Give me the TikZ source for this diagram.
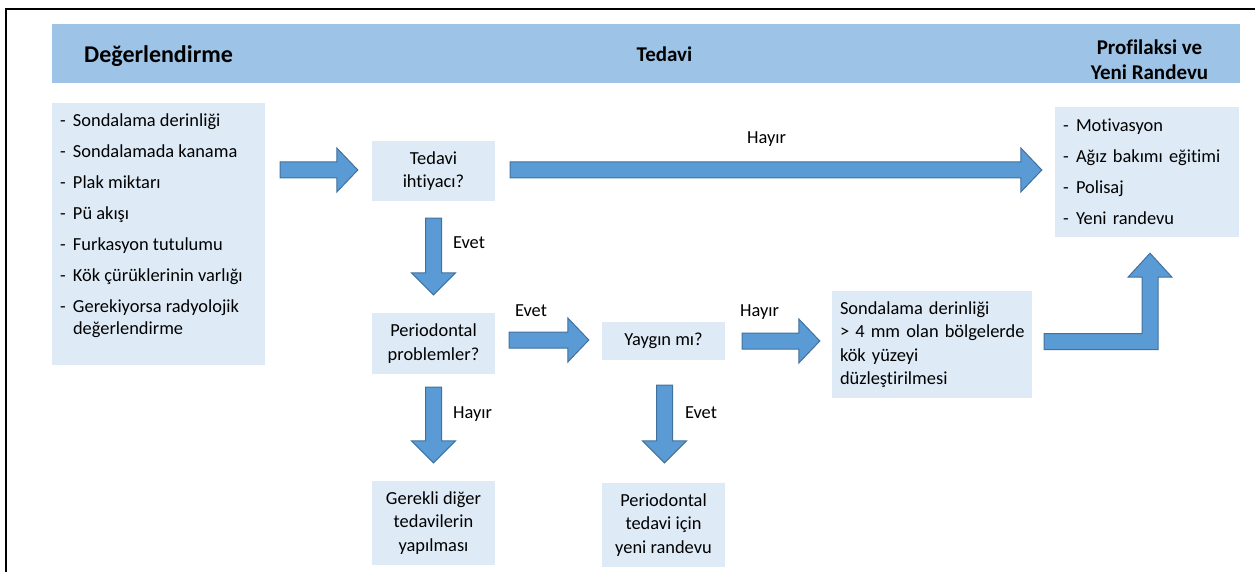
\documentclass[tikz,border=0pt]{standalone}
\usepackage{fontspec}
\setmainfont{Carlito}[Ligatures=NoCommon]
\usepackage{tikz}
\usetikzlibrary{calc, positioning}
\definecolor{bandblue}{HTML}{9DC3E6}
\definecolor{boxblue}{HTML}{DEEBF7}
\definecolor{arrowfill}{HTML}{5B9BD5}
\definecolor{arrowline}{HTML}{41719C}
\newcommand{\dashitem}[1]{\makebox[13pt][l]{-}#1}
\newcommand{\rightblock}[2]{%
  \draw[blockarrow] let \p1 = #1, \p2 = #2 in
    (\x1, \y1+8pt) -- (\x2-21pt, \y1+8pt) -- (\x2-21pt, \y1+22pt) -- (\x2, \y1)
    -- (\x2-21pt, \y1-22pt) -- (\x2-21pt, \y1-8pt) -- (\x1, \y1-8pt) -- cycle;}
\newcommand{\downblock}[2]{%
  \draw[blockarrow] let \p1 = #1, \p2 = #2 in
    (\x1-8pt, \y1) -- (\x1-8pt, \y2+22pt) -- (\x1-22pt, \y2+22pt) -- (\x1, \y2)
    -- (\x1+22pt, \y2+22pt) -- (\x1+8pt, \y2+22pt) -- (\x1+8pt, \y1) -- cycle;}

\begin{document}
\begin{tikzpicture}[x=1pt, y=-1pt,
    box/.style={fill=boxblue, inner sep=0pt, align=center, font=\fontsize{18.4}{23.5}\selectfont},
    head/.style={inner sep=0pt, font=\bfseries\fontsize{21}{25.5}\selectfont},
    lbl/.style={inner sep=0pt, anchor=base, font=\fontsize{18.4}{22}\selectfont},
    blockarrow/.style={draw=arrowline, fill=arrowfill, line width=1pt, line join=miter}]
                                \useasboundingbox (0, 0) rectangle (1255, 572);
                                \draw[line width=1.3pt] (6, 572) -- (6, 9) -- (1255, 9);
                                \node[fill=bandblue, minimum width=1188pt, minimum height=59pt] (band) at (646, 53.5) {};
                                \node[head, font=\bfseries\fontsize{24}{28}\selectfont, anchor=base west] (assesshead) at (84, 63) {Değerlendirme};
                                \node[head, anchor=base] (treathead) at (664.5, 62) {Tedavi};
                                \node[head, align=center] (prophead) at (1149.5, 59.5) {Profilaksi ve\\Yeni Randevu};
                                \node[box, minimum width=213pt, minimum height=262pt] (assess) at (158.5, 234) {};
                                \node[box, fill=none, align=left, font=\fontsize{18.4}{22}\selectfont, anchor=north west,
                                    xshift=8pt, yshift=-10.5pt] (assesslist) at (assess.north west)
                                    {\dashitem{Sondalama derinliği}\\[9pt]
                                     \dashitem{Sondalamada kanama}\\[9pt]
                                     \dashitem{Plak miktarı}\\[9pt]
                                     \dashitem{Pü akışı}\\[9pt]
                                     \dashitem{Furkasyon tutulumu}\\[9pt]
                                     \dashitem{Kök çürüklerinin varlığı}\\[9pt]
                                     \dashitem{Gerekiyorsa radyolojik}\\
                                     \hspace*{13pt}değerlendirme};
                                \node[box, minimum width=123pt, minimum height=60pt] (need) at (433.5, 171) {Tedavi\\ihtiyacı?};
                                \node[box, minimum width=123pt, minimum height=61pt] (perio) at (433.5, 343.5) {Periodontal\\problemler?};
                                \node[box, minimum width=123pt, minimum height=38pt] (yaygin) at (663.5, 341) {Yaygın mı?};
                                \node[box, minimum width=123pt, minimum height=84pt] (other) at (433.5, 523) {Gerekli diğer\\tedavilerin\\yapılması};
                                \node[box, minimum width=123pt, minimum height=84pt] (newvisit) at (663.5, 525) {Periodontal\\tedavi için\\yeni randevu};
                                \node[box, align=left, text width=184pt, inner xsep=8pt, minimum height=107pt] (scaling) at (932, 344.5)
                                    {\mbox{Sondalama derinliği}\\\mbox{> 4 mm olan bölgelerde}\\\mbox{kök yüzeyi}\\\mbox{düzleştirilmesi}};
                                \node[box, align=left, text width=168pt, inner xsep=8pt, minimum height=130pt] (motiv) at (1147, 172)
                                    {\dashitem{Motivasyon}\\[7.5pt]
                                     \dashitem{Ağız bakımı eğitimi}\\[7.5pt]
                                     \dashitem{Polisaj}\\[7.5pt]
                                     \dashitem{Yeni randevu}};
                                \rightblock{($(assess.east |- need.west)+(15, -1)$)}{($(need.west)+(-14, 0)$)}
                                \rightblock{($(need.east)+(15, -1)$)}{($(motiv.west |- need.east)+(-13, 0)$)}
                                \downblock{($(need.south)+(0, 17)$)}{($(perio.north)+(0, -18)$)}
                                \rightblock{($(perio.east |- yaygin.west)+(14, -1)$)}{($(yaygin.west)+(-13, 0)$)}
                                \downblock{($(perio.south)+(0, 13)$)}{($(other.north)+(0, -18)$)}
                                \downblock{($(yaygin.south)+(1, 25)$)}{($(newvisit.north)+(1, -20)$)}
                                \rightblock{($(yaygin.east)+(17, 0)$)}{($(scaling.west |- yaygin.east)+(-12, 0)$)}
                                \draw[blockarrow] let \p1 = ($(scaling.east)+(12, -3)$), \p2 = ($(motiv.south)+(3, 16)$) in
                                    (\x1, \y1+8pt) -- (\x2-8pt, \y1+8pt) -- (\x2-8pt, \y2-24pt) -- (\x2-22pt, \y2-24pt) -- (\x2, \y2)
                                    -- (\x2+22pt, \y2-24pt) -- (\x2+8pt, \y2-24pt) -- (\x2+8pt, \y1-8pt) -- (\x1, \y1-8pt) -- cycle;
                                \node[lbl] (nohead) at (766.5, 143.3) {Hayır};
                                \node[lbl] (yesneed) at (469, 248) {Evet};
                                \node[lbl] (yesperio) at (531, 316) {Evet};
                                \node[lbl] (noperio) at (472.5, 418) {Hayır};
                                \node[lbl] (yesyaygin) at (701, 418) {Evet};
                                \node[lbl] (noyaygin) at (759.5, 316.7) {Hayır};
                            \end{tikzpicture}
\end{document}
